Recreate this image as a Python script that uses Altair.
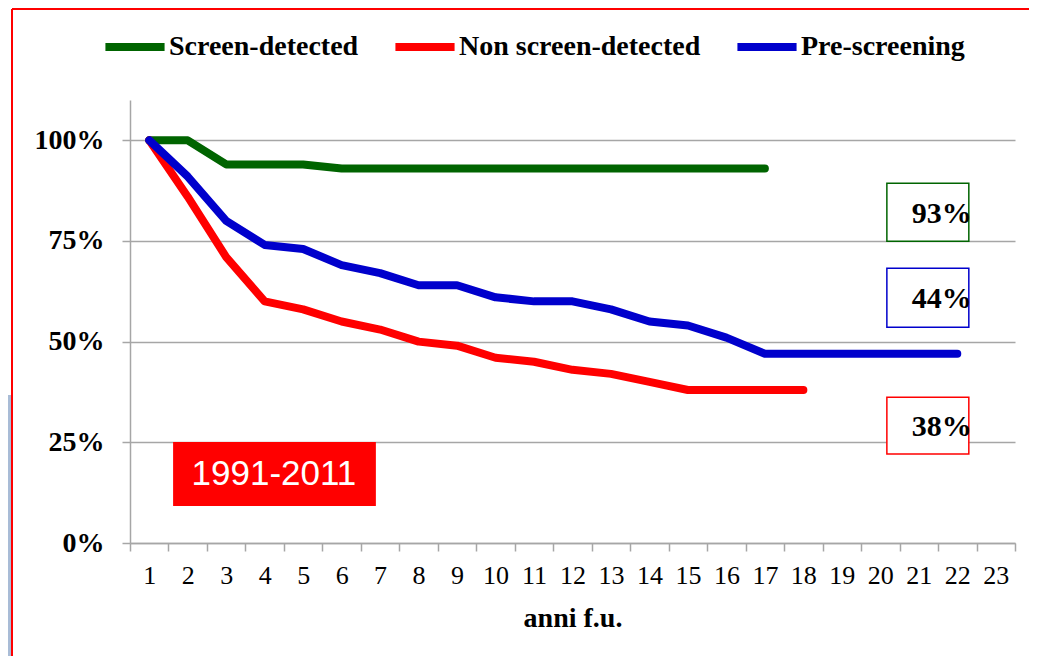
import altair as alt
import pandas as pd

# ---- data ----
series_names = ["Screen-detected", "Non screen-detected", "Pre-screening"]
series_colors = ["#006400", "#FF0000", "#0000CC"]

years_screen = list(range(1, 18))
vals_screen = [100, 100, 94, 94, 94, 93, 93, 93, 93, 93, 93, 93, 93, 93, 93, 93, 93]

years_non = list(range(1, 19))
vals_non = [100, 86, 71, 60, 58, 55, 53, 50, 49, 46, 45, 43, 42, 40, 38, 38, 38, 38]

years_pre = list(range(1, 23))
vals_pre = [100, 91, 80, 74, 73, 69, 67, 64, 64, 61, 60, 60, 58, 55, 54, 51, 47, 47, 47, 47, 47, 47]

x_tick_labels = [str(i) for i in range(1, 24)]
y_tick_values = [0, 0.25, 0.5, 0.75, 1.0]

box_labels = ["93%", "44%", "38%"]
box_colors = ["#006400", "#0000CC", "#FF0000"]
box_x1 = [20.17, 20.17, 20.17]
box_x2 = [22.3, 22.3, 22.3]
box_y1 = [0.893, 0.682, 0.362]
box_y2 = [0.749, 0.536, 0.221]
box_text_y = [0.816, 0.605, 0.287]

period_label = ["1991-2011"]
period_x1 = [1.62]
period_x2 = [6.89]
period_y1 = [0.251]
period_y2 = [0.092]
period_tx = [4.24]
period_ty = [0.171]

rows = []
for name, xs, vs in [(series_names[0], years_screen, vals_screen),
                     (series_names[1], years_non, vals_non),
                     (series_names[2], years_pre, vals_pre)]:
    for x, v in zip(xs, vs):
        rows.append({"year": x, "value": v / 100.0, "series": name})
df = pd.DataFrame(rows)

boxes = pd.DataFrame({"label": box_labels, "col": box_colors, "x1": box_x1, "x2": box_x2,
                      "y1": box_y1, "y2": box_y2, "ty": box_text_y})
period = pd.DataFrame({"label": period_label, "x1": period_x1, "x2": period_x2,
                       "y1": period_y1, "y2": period_y2, "tx": period_tx, "ty": period_ty})

SERIF = "Liberation Serif, Times New Roman, serif"
GRID = "#A6A6A6"

x_scale = alt.Scale(domain=[0.5, 23.5], nice=False, zero=False)
y_scale = alt.Scale(domain=[0, 1.1], nice=False, zero=True)

x_axis = alt.Axis(
    values=[i + 0.5 for i in range(24)], tickCount=40,
    labelExpr="datum.value < 23 ? '' + (datum.value + 0.5) : ''",
    labelOffset=19.24, labelFlush=False, labelOverlap=False, labelAngle=0,
    grid=False, tickSize=8, tickColor=GRID, domainColor=GRID, domainWidth=1.5, tickWidth=1.5,
    labelFont=SERIF, labelFontSize=26, labelColor="black", labelPadding=11,
    title="anni f.u.", titleFont=SERIF, titleFontSize=28, titleFontWeight="bold",
    titleColor="black", titlePadding=16,
)
y_axis = alt.Axis(
    values=y_tick_values, format=".0%", grid=True, gridColor=GRID, gridWidth=1.5,
    domainColor=GRID, domainWidth=1.5, tickColor=GRID, tickWidth=1.5, tickSize=8,
    labelFont=SERIF, labelFontSize=28, labelFontWeight="bold", labelColor="black",
    labelPadding=18, title=None,
)

lines = alt.Chart(df).mark_line(strokeWidth=8, strokeCap="round", strokeJoin="round").encode(
    x=alt.X("year:Q", scale=x_scale, axis=x_axis),
    y=alt.Y("value:Q", scale=y_scale, axis=y_axis),
    color=alt.Color("series:N",
                    scale=alt.Scale(domain=series_names, range=series_colors),
                    sort=series_names,
                    legend=alt.Legend(orient="none", legendX=-29, legendY=-87,
                                      direction="horizontal", columns=3,
                                      symbolType="stroke", symbolStrokeWidth=8,
                                      symbolSize=3500, labelFont=SERIF,
                                      labelFontWeight="bold", labelFontSize=28,
                                      labelColor="black", labelOffset=0,
                                      columnPadding=20, title=None, labelLimit=400)),
)

box_rect = alt.Chart(boxes).mark_rect(fill="white", strokeWidth=1.5).encode(
    x="x1:Q", x2="x2:Q", y="y1:Q", y2="y2:Q",
    stroke=alt.Stroke("col:N", scale=None),
)
box_text = alt.Chart(boxes).mark_text(align="right", baseline="middle", dx=3,
                                      font=SERIF, fontSize=30, fontWeight="bold",
                                      color="black").encode(
    x="x2:Q", y="ty:Q", text="label:N",
)

period_rect = alt.Chart(period).mark_rect(fill="#FF0000").encode(
    x="x1:Q", x2="x2:Q", y="y1:Q", y2="y2:Q",
)
period_text = alt.Chart(period).mark_text(align="center", baseline="middle",
                                          font="Liberation Sans Narrow, Liberation Sans, Arial, sans-serif",
                                          fontSize=35, color="white").encode(
    x="tx:Q", y="ty:Q", text="label:N",
)

# slide frame (red border of the slide) and edge of neighbouring slide
frame = pd.DataFrame({"k": [0]})
frame_left = alt.Chart(frame).mark_rule(color="#FF0000", strokeWidth=2, clip=False).encode(
    x=alt.value(-118), y=alt.value(-91), y2=alt.value(560))
frame_top = alt.Chart(frame).mark_rule(color="#FF0000", strokeWidth=2, clip=False).encode(
    x=alt.value(-118), x2=alt.value(920), y=alt.value(-91))
strip = alt.Chart(frame).mark_rect(color="#A9BCD6", clip=False).encode(
    x=alt.value(-122), x2=alt.value(-119), y=alt.value(295), y2=alt.value(560))

chart = alt.layer(
    strip, frame_left, frame_top, lines, box_rect, box_text, period_rect, period_text
).properties(
    width=885, height=443,
    padding={"left": 122, "top": 92, "right": 14, "bottom": 113},
    autosize=alt.AutoSizeParams(type="none"),
    background="white",
).configure_view(stroke=None)

chart.save("out.html", embed_options={"renderer": "svg", "actions": False})
